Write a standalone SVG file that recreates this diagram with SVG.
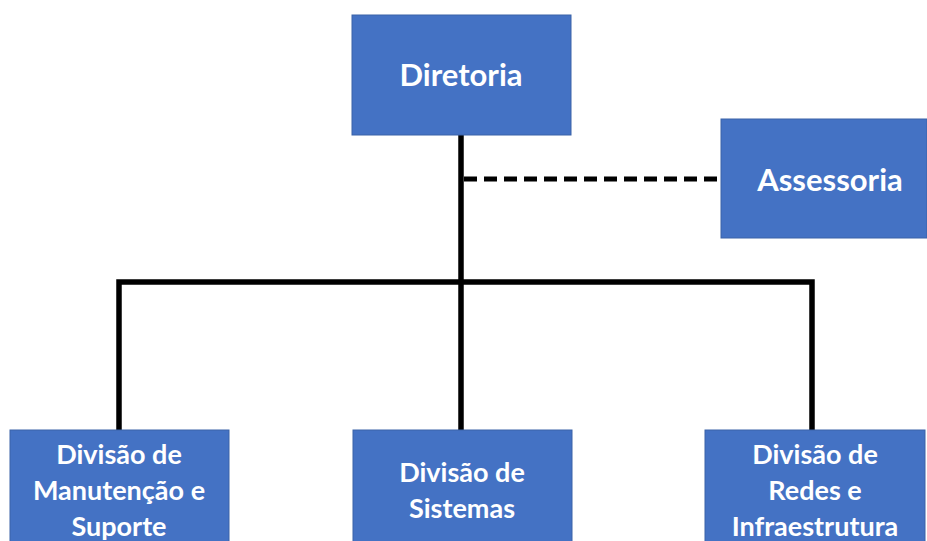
<svg xmlns="http://www.w3.org/2000/svg" width="927" height="541" viewBox="0 0 927 541">
<style>
.box{fill:#4472C4;stroke:#3A63A8;stroke-width:1}
.t{font-family:Lato,"Open Sans","Liberation Sans",sans-serif;font-weight:bold;fill:#fff;text-anchor:middle}
.big{font-size:31px}
.sm{font-size:27px}
.ln{stroke:#000;stroke-width:5.5;fill:none}
.dash{stroke:#000;stroke-width:5;fill:none;stroke-dasharray:13,7}
</style>
<rect width="927" height="541" fill="#fff"/>
<g id="connectors">
<line class="ln" x1="461" y1="135" x2="461" y2="430"/>
<line class="dash" x1="464" y1="179" x2="721" y2="179"/>
<polyline class="ln" points="119,430 119,282 812,282 812,430"/>
</g>
<g id="diretoria">
<rect class="box" x="352" y="15" width="219" height="120"/>
<text class="t big" x="461" y="86">Diretoria</text>
</g>
<g id="assessoria">
<rect class="box" x="721" y="119" width="206" height="119"/>
<text class="t big" x="830" y="191">Assessoria</text>
</g>
<g id="manutencao">
<rect class="box" x="10" y="430" width="219" height="120"/>
<text class="t sm" x="119" y="464">Divisão de</text>
<text class="t sm" x="119" y="500">Manutenção e</text>
<text class="t sm" x="119" y="536">Suporte</text>
</g>
<g id="sistemas">
<rect class="box" x="353" y="430" width="219" height="120"/>
<text class="t sm" x="462" y="482">Divisão de</text>
<text class="t sm" x="462" y="518">Sistemas</text>
</g>
<g id="redes">
<rect class="box" x="705" y="430" width="220" height="120"/>
<text class="t sm" x="815" y="464">Divisão de</text>
<text class="t sm" x="815" y="500">Redes e</text>
<text class="t sm" x="815" y="536">Infraestrutura</text>
</g>
</svg>
